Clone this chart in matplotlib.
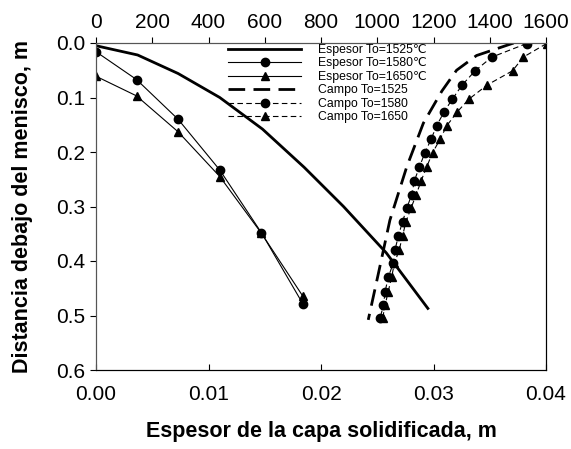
import matplotlib
matplotlib.use("Agg")
import matplotlib.pyplot as plt

plt.rcParams['font.family'] = ['Liberation Sans', 'DejaVu Sans']

# Espesor de la capa (eje inferior, m) vs distancia bajo el menisco (m)
esp1525_x = [0.0, 0.0037, 0.0073, 0.0110, 0.0148, 0.0185, 0.0220, 0.0258, 0.0295]
esp1525_y = [0.005, 0.022, 0.056, 0.100, 0.158, 0.228, 0.300, 0.385, 0.487]

esp1580_x = [0.0, 0.0036, 0.0073, 0.0110, 0.0147, 0.0184]
esp1580_y = [0.016, 0.067, 0.140, 0.233, 0.348, 0.479]

esp1650_x = [0.0, 0.0036, 0.0073, 0.0110, 0.0147, 0.0184]
esp1650_y = [0.061, 0.097, 0.163, 0.245, 0.349, 0.465]

# Campo de temperatura (eje superior)
campo1525_t = [1485, 1353, 1282, 1230, 1164, 1105, 1045, 1004, 968]
campo1525_y = [0.000, 0.023, 0.050, 0.088, 0.147, 0.227, 0.325, 0.423, 0.508]

campo_y = [0.001, 0.026, 0.051, 0.077, 0.103, 0.126, 0.152, 0.177, 0.201, 0.227,
           0.253, 0.279, 0.303, 0.328, 0.354, 0.380, 0.404, 0.430, 0.456, 0.481, 0.505]
campo1580_t = [1531, 1407, 1348, 1302, 1267, 1238, 1211, 1191, 1170, 1150,
               1132, 1122, 1105, 1090, 1075, 1063, 1057, 1039, 1028, 1022, 1010]
campo1650_t = [1602, 1519, 1481, 1391, 1326, 1285, 1247, 1223, 1197, 1176,
               1156, 1138, 1120, 1102, 1090, 1078, 1061, 1051, 1039, 1028, 1019]

fig = plt.figure(figsize=(5.71, 4.49), dpi=100)
ax = fig.add_axes([96/571, 1 - 370/449, 450/571, 327/449])
ax2 = ax.twiny()

h1, = ax.plot(esp1525_x, esp1525_y, color='black', lw=2.0)
h2, = ax.plot(esp1580_x, esp1580_y, color='black', lw=0.8, marker='o', ms=6)
h3, = ax.plot(esp1650_x, esp1650_y, color='black', lw=0.8, marker='^', ms=6)

h4, = ax2.plot(campo1525_t, campo1525_y, color='black', lw=2.0, dashes=(6, 3))
h5, = ax2.plot(campo1580_t, campo_y, color='black', lw=0.8, marker='o', ms=6, dashes=(5, 3))
h6, = ax2.plot(campo1650_t, campo_y, color='black', lw=0.8, marker='^', ms=6, dashes=(5, 3))

ax.set_xlim(0, 0.04)
ax.set_ylim(0.6, 0.0)
ax2.set_xlim(0, 1600)
ax.set_xticks([0.0, 0.01, 0.02, 0.03, 0.04])
ax.set_xticklabels(['0.00', '0.01', '0.02', '0.03', '0.04'])
ax.set_yticks([0.0, 0.1, 0.2, 0.3, 0.4, 0.5, 0.6])
ax.set_yticklabels(['0.0', '0.1', '0.2', '0.3', '0.4', '0.5', '0.6'])
ax2.set_xticks(range(0, 1601, 200))

ax.tick_params(axis='x', direction='in', length=4, labelsize=15, pad=11)
ax.tick_params(axis='y', direction='out', length=4, labelsize=15, pad=4)
ax2.tick_params(axis='x', direction='out', length=4, labelsize=15, pad=4)

for a in (ax, ax2):
    a.spines['left'].set_color('#555555')
    a.spines['top'].set_color('#555555')

ax.set_xlabel('Espesor de la capa solidificada, m', fontsize=15.5,
              fontweight='bold', labelpad=12)
ax.set_ylabel('Distancia debajo del menisco, m', fontsize=15.5,
              fontweight='bold', labelpad=16)

labels = ['Espesor To=1525\u2103', 'Espesor To=1580\u2103', 'Espesor To=1650\u2103',
          'Campo To=1525', 'Campo To=1580', 'Campo To=1650']
fig.legend([h1, h2, h3, h4, h5, h6], labels, loc='upper left',
           bbox_to_anchor=(228/571, 1 - 44/449), frameon=False, fontsize=8.8,
           borderpad=0, borderaxespad=0, handlelength=6.0, handletextpad=1.4,
           labelspacing=0.12)

fig.savefig('out.png', dpi=100)
